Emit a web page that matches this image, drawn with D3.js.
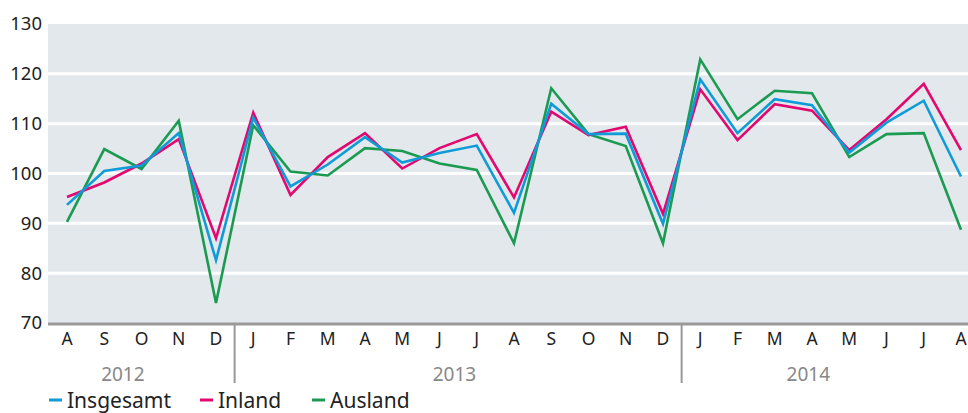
<!DOCTYPE html>
<html>
<head>
<meta charset="utf-8">
<script src="https://cdn.jsdelivr.net/npm/d3@7"></script>
<style>
  body { margin: 0; background: #fff; }
  svg { display: block; font-family: "Noto Sans", sans-serif; }
</style>
</head>
<body>
<svg id="chart" width="968" height="413"></svg>
<script>
// month labels, Aug 2012 .. Aug 2014
const months = ["A","S","O","N","D","J","F","M","A","M","J","J","A","S","O","N","D","J","F","M","A","M","J","J","A"];
const years = [
  { label: "2012", pos: 1.5 },
  { label: "2013", pos: 10.4 },
  { label: "2014", pos: 19.9 }
];
const yearBreaks = [4.5, 16.5];

const insgesamt = [93.7,100.5,101.6,108.1,82.6,111.2,97.4,101.8,107.3,102.2,104.1,105.6,92.1,114.0,107.9,108.0,89.9,118.9,108.1,114.9,113.7,104.2,110.2,114.6,99.4];
const inland    = [95.3,98.2,102.0,106.9,87.0,112.2,95.7,103.3,108.1,101.0,105.1,107.9,95.2,112.4,107.7,109.4,91.9,116.9,106.7,113.9,112.6,104.7,110.9,118.0,104.7];
const ausland   = [90.3,104.9,100.9,110.6,74.0,109.7,100.4,99.6,105.1,104.5,102.0,100.7,86.0,117.1,107.9,105.5,86.0,122.9,110.9,116.6,116.1,103.3,107.9,108.1,88.7];

const yTicks = [70, 80, 90, 100, 110, 120, 130];

const series = [
  { name: "Insgesamt", values: insgesamt, color: "#0e9bd8" },
  { name: "Inland", values: inland, color: "#e2086f" },
  { name: "Ausland", values: ausland, color: "#1b9b52" }
];

const svg = d3.select("#chart");
const plotL = 48, plotR = 968, plotT = 24, plotB = 323;

const x = d3.scaleLinear().domain([0, months.length - 1]).range([67, 961]);
const y = d3.scaleLinear().domain([70, 130]).range([plotB, plotT]);

// background
svg.append("rect")
  .attr("x", plotL).attr("y", plotT)
  .attr("width", plotR - plotL).attr("height", plotB - plotT)
  .attr("fill", "#e3e8ec");

// grid lines
svg.append("g")
  .selectAll("line")
  .data(yTicks.filter(d => d > 70 && d < 130))
  .join("line")
  .attr("x1", plotL).attr("x2", plotR)
  .attr("y1", d => y(d)).attr("y2", d => y(d))
  .attr("stroke", "#fff").attr("stroke-width", 3);

// y axis labels
const yAxis = svg.append("g")
  .attr("transform", `translate(${plotL - 6},0)`)
  .call(d3.axisLeft(y).tickValues(yTicks).tickSize(0).tickPadding(0));
yAxis.select(".domain").remove();
yAxis.selectAll("text")
  .attr("font-size", 18.5).attr("fill", "#222")
  .attr("font-family", "Noto Sans, sans-serif");

// x axis line
svg.append("line")
  .attr("x1", plotL).attr("x2", plotR)
  .attr("y1", plotB + 1).attr("y2", plotB + 1)
  .attr("stroke", "#999").attr("stroke-width", 3);

// year separators
svg.append("g")
  .selectAll("line")
  .data(yearBreaks)
  .join("line")
  .attr("x1", d => x(d)).attr("x2", d => x(d))
  .attr("y1", plotB + 1).attr("y2", 383)
  .attr("stroke", "#999").attr("stroke-width", 2);

// month labels
svg.append("g")
  .selectAll("text")
  .data(months)
  .join("text")
  .attr("x", (d, i) => x(i))
  .attr("y", 345)
  .attr("text-anchor", "middle")
  .attr("font-size", 17.5).attr("fill", "#222")
  .text(d => d);

// year labels
svg.append("g")
  .selectAll("text")
  .data(years)
  .join("text")
  .attr("x", d => x(d.pos))
  .attr("y", 381)
  .attr("text-anchor", "middle")
  .attr("font-size", 19).attr("fill", "#888")
  .text(d => d.label);

// lines
const line = d3.line()
  .x((d, i) => x(i))
  .y(d => y(d));

svg.append("g")
  .selectAll("path")
  .data(series.slice().reverse())
  .join("path")
  .attr("d", d => line(d.values))
  .attr("fill", "none")
  .attr("stroke", d => d.color)
  .attr("stroke-width", 2.6)
  .attr("stroke-linejoin", "miter");

// legend
const legendX = [49, 200, 312];
const legend = svg.append("g")
  .selectAll("g")
  .data(series)
  .join("g")
  .attr("transform", (d, i) => `translate(${legendX[i]},400)`);
legend.append("line")
  .attr("x1", 0).attr("x2", 13)
  .attr("stroke", d => d.color).attr("stroke-width", 3);
legend.append("text")
  .attr("x", 18).attr("y", 8)
  .attr("font-size", 21).attr("fill", "#222")
  .text(d => d.name);
</script>
</body>
</html>
